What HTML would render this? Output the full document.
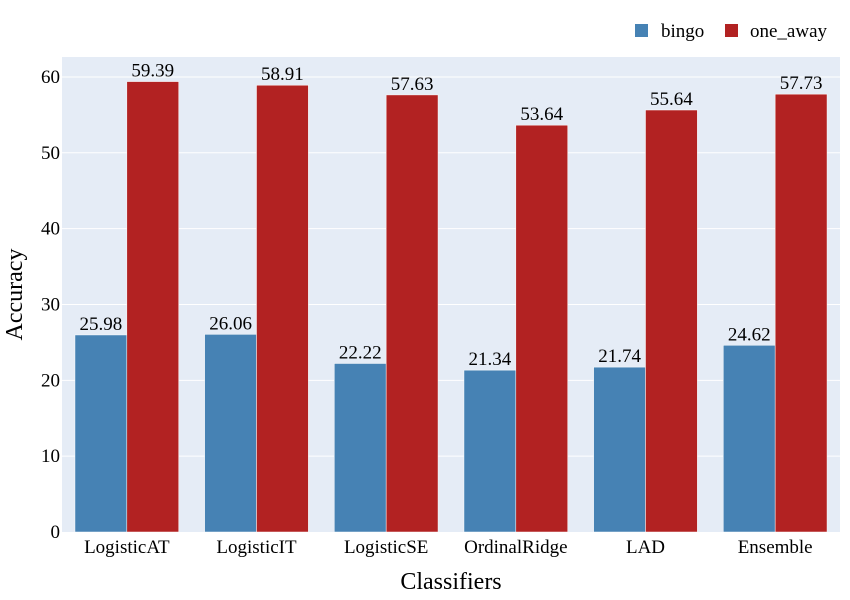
<!DOCTYPE html>
<html><head><meta charset="utf-8"><style>
body{margin:0;background:#fff;}
svg{display:block;font-family:"Liberation Serif",serif;}
</style></head><body>
<svg id="chart" width="850" height="600">
<rect x="62" y="57" width="778" height="475" fill="#e5ecf6"/>
<g id="grid"></g><g id="bars"></g><g id="labels"></g><g id="axes"></g>
<text x="22" y="294.5" transform="rotate(-90 22 294.5)" text-anchor="middle" font-size="24" fill="#000">Accuracy</text>
<text x="451" y="589" text-anchor="middle" font-size="24" fill="#000">Classifiers</text>
<g>
<rect x="635" y="24" width="13" height="13" fill="#4682b4"/>
<text x="661" y="37" font-size="19">bingo</text>
<rect x="725" y="24" width="13" height="13" fill="#b22222"/>
<text x="750" y="37" font-size="19">one_away</text>
</g>
</svg>
<script>
const categories=["LogisticAT","LogisticIT","LogisticSE","OrdinalRidge","LAD","Ensemble"];
const bingo=[25.98,26.06,22.22,21.34,21.74,24.62];
const oneAway=[59.39,58.91,57.63,53.64,55.64,57.73];
const yTicks=[0,10,20,30,40,50,60];
const NS="http://www.w3.org/2000/svg";
const L=62,R=840,T=57,B=532,yMax=62.63;
const y=v=>B-(v/yMax)*(B-T);
const band=(R-L)/categories.length;
const bw=band*0.8/2;
function mk(tag,attrs,parent,text){const e=document.createElementNS(NS,tag);for(const k in attrs)e.setAttribute(k,attrs[k]);if(text!==undefined)e.textContent=text;document.getElementById(parent).appendChild(e);return e;}
yTicks.forEach(t=>{
 if(t>0){const g=mk('line',{x1:L,x2:R,y1:y(t),y2:y(t),stroke:'#fff','stroke-width':1},'grid');
 
 }
 const tx=mk('text',{x:L-2,y:y(t)+6,'text-anchor':'end','font-size':19},'axes',String(t));
 
 
});
categories.forEach((c,i)=>{
 const x0=L+band*i+band*0.1;
 [[bingo[i],'#4682b4','bar-bingo'],[oneAway[i],'#b22222','bar-one-away']].forEach((s,j)=>{
  const bx=x0+j*bw;
  const r=mk('rect',{x:bx,y:y(s[0]),width:bw,height:B-y(s[0]),fill:s[1],stroke:'#fff','stroke-width':0.5},'bars');
  
  
  const t=mk('text',{x:bx+bw/2,y:y(s[0])-5,'text-anchor':'middle','font-size':19},'labels',s[0].toFixed(2));
  
  
 });
 const xl=mk('text',{x:L+band*(i+0.5),y:553,'text-anchor':'middle','font-size':19},'axes',c);
 
 
});
</script>
</body></html>
